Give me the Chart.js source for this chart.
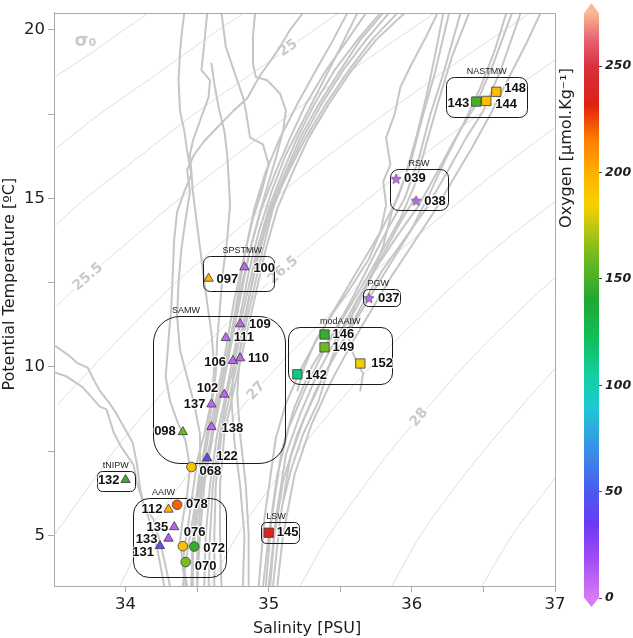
<!DOCTYPE html>
<html><head><meta charset="utf-8">
<script src="https://cdn.jsdelivr.net/npm/chart.js"></script>
<style>
html,body{margin:0;padding:0;background:#fff;}
#wrap{position:relative;width:633px;height:638px;overflow:hidden;}
#main{position:absolute;left:0;top:0;}
#cbar{position:absolute;left:558px;top:0;}
</style></head><body>
<div id="wrap"><canvas id="main" width="633" height="638"></canvas><canvas id="cbar" width="75" height="638"></canvas></div>
<script>
// ---------------- DATA ----------------
const stationIds = ['143','144','148','039','038','037','146','149','152','142','097','100','109','111','106','110','102','137','138','098','122','068','132','112','078','135','133','131','076','072','070','145'];
const salinity   = [36.45,36.52,36.59,35.89,36.03,35.70,35.39,35.39,35.64,35.20,34.58,34.83,34.80,34.70,34.75,34.80,34.69,34.60,34.60,34.40,34.57,34.46,34.00,34.30,34.36,34.34,34.30,34.24,34.40,34.48,34.42,35.00];
const temperature= [17.87,17.89,18.16,15.58,14.93,12.04,10.96,10.58,10.10,9.78,12.62,12.96,11.27,10.86,10.18,10.26,9.18,8.89,8.22,8.07,7.29,7.03,6.65,5.77,5.91,5.25,4.91,4.69,4.68,4.67,4.21,5.08];
const oxygen     = [150,192,195,8,8,8,145,160,183,112,198,8,8,8,8,8,8,8,8,160,45,192,145,198,220,10,12,30,192,145,163,235];
const markerShape= ['square','square','square','star','star','star','square','square','square','square','triangle','triangle','triangle','triangle','triangle','triangle','triangle','triangle','triangle','triangle','triangle','circle','triangle','triangle','circle','triangle','triangle','triangle','circle','circle','circle','square'];

const boxNames   = ['NASTMW','RSW','PGW','modAAIW','SPSTMW','SAMW','tNIPW','AAIW','LSW'];
const boxSalMin  = [36.238,35.849,35.656,35.135,34.539,34.191,33.800,34.051,34.947];
const boxSalMax  = [36.807,36.252,35.917,35.865,35.035,35.114,34.063,34.703,35.209];
const boxTempMax = [18.59,15.87,12.30,11.19,13.29,11.51,6.91,6.12,5.39];
const boxTempMin = [17.41,14.66,11.80,9.49,12.26,7.16,6.31,3.79,4.77];

const salTicks  = [34,34.5,35,35.5,36,36.5,37];
const tempTicks = [5,7.5,10,12.5,15,17.5,20];
const oxyTicks  = [0,50,100,150,200,250];

// isopycnals (sigma0)
const isoLevels = [24,24.5,25,25.5,26,26.5,27,27.5,28,28.5,29];
const isopycnals = [
 [[33.47,18.5],[33.74,19.25],[33.99,20.0],[34.16,20.5]],
 [[33.52,16.5],[33.82,17.5],[34.24,18.75],[34.65,20.0],[34.83,20.5]],
 [[33.51,14.2],[33.72,15.0],[34.10,16.25],[34.48,17.5],[34.90,18.75],[35.32,20.0],[35.49,20.5]],
 [[33.52,11.8],[33.69,12.5],[34.03,13.75],[34.38,15.0],[34.76,16.25],[35.15,17.5],[35.56,18.75],[35.99,20.0],[36.16,20.5]],
 [[33.53,8.9],[33.77,10.0],[34.05,11.25],[34.35,12.5],[34.69,13.75],[35.04,15.0],[35.41,16.25],[35.81,17.5],[36.22,18.75],[36.65,20.0],[36.83,20.5]],
 [[33.50,5.0],[33.71,6.25],[33.92,7.5],[34.16,8.75],[34.42,10.0],[34.70,11.25],[35.00,12.5],[35.34,13.75],[35.70,15.0],[36.07,16.25],[36.47,17.5],[36.88,18.75],[37.10,19.4]],
 [[33.96,3.5],[34.14,5.0],[34.34,6.25],[34.56,7.5],[34.80,8.75],[35.06,10.0],[35.35,11.25],[35.65,12.5],[36.00,13.75],[36.36,15.0],[36.73,16.25],[37.13,17.5]],
 [[34.59,3.5],[34.78,5.0],[34.98,6.25],[35.21,7.5],[35.45,8.75],[35.71,10.0],[36.00,11.25],[36.31,12.5],[36.65,13.75],[37.03,15.0]],
 [[35.22,3.5],[35.42,5.0],[35.63,6.25],[35.85,7.5],[36.10,8.75],[36.36,10.0],[36.65,11.25],[36.96,12.5],[37.30,13.75]],
 [[35.86,3.5],[36.06,5.0],[36.27,6.25],[36.50,7.5],[36.75,8.75],[37.01,10.0]],
 [[36.49,3.5],[36.70,5.0],[36.92,6.25],[37.14,7.5]]
];
const isoLabelLevels = [25,25.5,26.5,27,28];
const isoLabelTemp   = [19.45,12.67,12.87,9.29,8.5];

// grey CTD profiles (salinity, temperature)
const tsProfiles = [
 [[34.41,20.5],[34.39,19.8],[34.38,19.3],[34.37,18.5],[34.38,17.6],[34.41,17.0],[34.43,16.4],[34.46,15.7],[34.41,15.2],[34.36,14.6],[34.34,13.8],[34.33,12.8],[34.32,11.8],[34.30,10.8],[34.28,9.7],[34.31,9.0],[34.36,8.4],[34.42,7.8],[34.45,7.0],[34.43,6.2],[34.40,5.5],[34.38,4.8],[34.40,4.2],[34.43,3.5]],
 [[34.57,20.5],[34.55,19.6],[34.53,18.8],[34.59,18.5],[34.58,18.0],[34.52,17.3],[34.47,16.7],[34.45,16.3],[34.47,15.2],[34.50,14.2],[34.53,13.2],[34.56,12.2],[34.60,11.0],[34.62,10.0],[34.60,9.0],[34.55,8.0],[34.50,7.2],[34.47,6.3],[34.44,5.4],[34.41,4.6],[34.40,4.0],[34.42,3.5]],
 [[34.67,20.5],[34.70,19.5],[34.74,19.0],[34.78,18.5],[34.82,18.0],[34.84,17.6],[34.87,16.8],[34.96,16.6],[35.00,16.0],[34.95,15.2],[34.89,14.4],[34.84,13.5],[34.80,12.5],[34.76,11.5],[34.72,10.5],[34.67,9.5],[34.62,8.5],[34.58,7.5],[34.53,6.5],[34.50,5.5],[34.47,4.5],[34.46,3.5]],
 [[34.905,20.5],[34.89,19.8],[34.89,19.0],[34.91,18.6],[34.99,18.5],[35.08,18.1],[35.12,17.6],[35.10,17.0],[35.05,16.2],[34.98,15.2],[34.92,14.3],[34.86,13.3],[34.80,12.2],[34.75,11.2],[34.70,10.2],[34.66,9.3],[34.62,8.3],[34.57,7.3],[34.53,6.2],[34.51,5.2],[34.50,4.3],[34.50,3.5]],
 [[34.60,19.0],[34.62,18.4],[34.65,17.7],[34.69,17.0],[34.71,16.3],[34.72,15.6],[34.73,14.8],[34.71,13.8],[34.68,12.8],[34.66,11.8],[34.64,10.8],[34.63,9.8],[34.60,8.8],[34.56,7.8],[34.52,6.8],[34.49,5.8],[34.47,4.8],[34.47,3.5]],
 [[35.24,20.5],[35.15,20.0],[35.08,19.5],[35.00,19.0],[34.94,18.65],[34.85,17.97],[34.75,17.58],[34.64,17.1],[34.55,16.7],[34.48,16.3],[34.43,15.85],[34.45,15.2],[34.42,14.4],[34.39,13.5],[34.37,12.5],[34.36,11.5],[34.38,10.5],[34.43,9.7],[34.48,8.9],[34.52,8.0],[34.52,7.0],[34.49,6.0],[34.45,5.0],[34.42,4.2],[34.40,3.5]],
 [[34.46,3.5],[34.47,5.0],[34.52,6.5],[34.58,8.0],[34.64,9.2],[34.70,10.5],[34.76,12.0],[34.84,13.5],[34.90,14.7],[34.98,15.8],[35.08,16.8],[35.20,17.8],[35.33,18.8],[35.45,19.7],[35.55,20.5]],
 [[34.50,3.5],[34.52,5.0],[34.55,6.5],[34.61,8.0],[34.67,9.2],[34.73,10.5],[34.80,12.0],[34.87,13.5],[34.95,14.7],[35.05,15.8],[35.15,16.8],[35.26,17.8],[35.40,18.8],[35.55,19.7],[35.68,20.5]],
 [[34.55,3.5],[34.56,5.0],[34.59,6.5],[34.64,8.0],[34.70,9.2],[34.76,10.5],[34.84,12.0],[34.92,13.5],[35.00,14.7],[35.10,15.8],[35.20,16.8],[35.32,17.8],[35.46,18.8],[35.62,19.7],[35.78,20.5]],
 [[34.62,3.5],[34.62,5.0],[34.63,6.5],[34.67,8.0],[34.73,9.2],[34.80,10.5],[34.88,12.0],[34.96,13.5],[35.03,14.7],[35.13,15.8],[35.24,16.8],[35.37,17.8],[35.52,18.8],[35.68,19.7],[35.84,20.5]],
 [[34.86,3.5],[34.86,5.0],[34.84,6.5],[34.80,8.0],[34.78,9.2],[34.80,10.5],[34.86,12.0],[34.93,13.5],[35.01,14.7],[35.12,15.8],[35.22,16.8],[35.35,17.8],[35.50,18.8],[35.64,19.7],[35.80,20.5]],
 [[34.82,3.5],[34.83,5.0],[34.80,6.5],[34.76,7.8],[34.74,9.0],[34.76,10.2],[34.80,11.5],[34.86,12.8],[34.93,14.0],[35.02,15.2],[35.12,16.3],[35.24,17.3],[35.36,18.3],[35.48,19.3],[35.62,20.5]],
 [[34.58,3.5],[34.59,5.0],[34.61,6.5],[34.66,8.0],[34.71,9.2],[34.78,10.5],[34.86,12.0],[34.94,13.5],[35.02,14.7],[35.14,15.8],[35.26,16.8],[35.40,17.8],[35.56,18.8],[35.72,19.7],[35.90,20.5]],
 [[34.67,3.5],[34.66,5.0],[34.66,6.5],[34.69,8.0],[34.75,9.2],[34.82,10.5],[34.90,12.0],[34.98,13.5],[35.06,14.7],[35.17,15.8],[35.28,16.8],[35.42,17.8],[35.58,18.8],[35.75,19.7],[35.95,20.5]],
 [[34.93,3.5],[34.97,5.5],[35.05,7.9],[35.12,8.9],[35.22,9.9],[35.36,11.0],[35.50,12.0],[35.64,13.0],[35.78,14.0],[35.90,15.0],[36.00,16.2],[36.08,17.5],[36.16,18.7],[36.26,20.5]],
 [[34.98,3.5],[35.02,5.5],[35.09,7.5],[35.18,8.8],[35.30,10.0],[35.45,11.0],[35.58,12.0],[35.70,13.0],[35.82,14.0],[35.95,15.0],[36.05,16.2],[36.13,17.5],[36.22,18.7],[36.34,20.5]],
 [[35.03,3.5],[35.08,5.5],[35.15,7.3],[35.25,8.5],[35.38,9.7],[35.52,10.8],[35.66,11.9],[35.80,12.9],[35.95,13.8],[36.10,14.7],[36.25,15.8],[36.38,16.8],[36.50,17.6],[36.62,18.8],[36.76,20.5]],
 [[35.00,3.5],[35.05,5.5],[35.12,7.4],[35.22,8.6],[35.34,9.8],[35.48,10.9],[35.62,12.0],[35.76,13.0],[35.90,13.9],[36.05,14.8],[36.18,15.8],[36.32,16.9],[36.45,17.8],[36.57,19.0],[36.70,20.5]],
 [[34.96,3.5],[35.00,5.0],[35.06,6.8],[35.14,8.2],[35.26,9.4],[35.40,10.6],[35.54,11.6],[35.68,12.6],[35.80,13.5],[35.92,14.4],[36.02,15.4],[36.10,16.6],[36.18,17.8],[36.28,19.2],[36.40,20.5]],
 [[35.01,3.5],[35.04,5.0],[35.10,6.6],[35.20,8.0],[35.33,9.3],[35.47,10.4],[35.61,11.4],[35.74,12.3],[35.87,13.2],[36.00,14.1],[36.12,15.1],[36.24,16.2],[36.36,17.2],[36.48,18.3],[36.58,19.4],[36.66,20.5]],
 [[35.06,3.5],[35.10,5.0],[35.18,6.8],[35.30,8.3],[35.44,9.6],[35.58,10.7],[35.72,11.7],[35.86,12.7],[36.00,13.6],[36.14,14.5],[36.28,15.5],[36.42,16.5],[36.55,17.5],[36.68,18.6],[36.80,19.6],[36.90,20.5]],
 [[35.10,6.0],[35.16,7.0],[35.24,8.0],[35.35,9.0],[35.42,10.0],[35.50,11.0],[35.62,11.8],[35.72,12.7],[35.80,13.6],[35.86,14.6],[35.95,15.6],[36.03,16.8],[36.10,18.0],[36.16,19.2],[36.22,20.5]],
 [[35.20,9.3],[35.25,10.0],[35.33,10.8],[35.45,11.6],[35.58,12.4],[35.70,13.2],[35.78,14.0],[35.82,14.8],[35.80,15.5],[35.85,16.0],[35.82,16.8],[35.88,17.5],[35.92,18.3],[36.00,19.0],[36.10,19.8],[36.18,20.5]],
 [[35.64,9.3],[35.66,9.8],[35.62,10.1],[35.58,10.5],[35.55,11.0],[35.60,11.8],[35.70,12.6],[35.82,13.5],[35.92,14.3],[36.02,15.0]],
 [[33.50,10.65],[33.60,10.35],[33.66,10.12],[33.735,9.98],[33.78,9.6],[33.82,9.29],[33.89,8.91],[33.935,8.62],[33.99,8.2],[34.05,7.75],[34.08,7.1],[34.10,6.42],[34.126,5.93],[34.195,5.47],[34.237,4.86],[34.27,4.28],[34.31,3.5]],
 [[33.50,9.84],[33.586,9.72],[33.70,9.40],[33.82,8.82],[33.867,8.74],[33.916,8.07],[33.963,7.67],[34.056,7.09],[34.077,6.60],[34.12,6.0],[34.167,5.44],[34.223,4.57],[34.27,3.5]]
];

// ---------------- STYLE ----------------
const FONT = "'DejaVu Sans', Verdana, sans-serif";
const LFONT = "'Liberation Sans', Arial, sans-serif";
const cmapValues = [0,20,35,50,70,90,105,120,140,160,175,185,200,215,232,250,262,275];
const cmapColors = ['#d77af5','#9a4af5','#6a3af5','#4a5af0','#3a90e8','#20c8d0','#10d0a0','#10c060','#20a830','#70b820','#c0c810','#f8d000','#ffb000','#ff8000','#e02010','#d83040','#e86070','#f8b890'];
const labelPlacement = {
 '143':['l',7,2],'144':['r',9,4],'148':['r',8,-3],'039':['r',8,0],'038':['r',8,1],'037':['r',9,0],
 '146':['r',8,0],'149':['r',8,0],'152':['r',11,0],'142':['r',8,1],'097':['r',8,1],'100':['r',9,1],
 '109':['r',9,0],'111':['r',8,0],'106':['l',7,2],'110':['r',8,0],'102':['l',6,-6],'137':['l',6,0],
 '138':['r',10,2],'098':['l',7,-1],'122':['r',9,-2],'068':['r',8,4],'132':['l',6,1],'112':['l',6,0],
 '078':['r',9,0],'135':['l',6,0],'133':['l',11,1],'131':['l',6,7],'076':['r',1,-14],'072':['r',9,2],
 '070':['r',9,4],'145':['r',8,0]
};
const boxLabelShift = {SAMW:-33, AAIW:-16, SPSTMW:4, PGW:-3, LSW:-4};

function hex2rgb(h){return [parseInt(h.slice(1,3),16),parseInt(h.slice(3,5),16),parseInt(h.slice(5,7),16)];}
function oxyColor(v){
  if(v<=cmapValues[0]) return cmapColors[0];
  for(let i=0;i<cmapValues.length-1;i++){
    if(v<=cmapValues[i+1]){
      const f=(v-cmapValues[i])/(cmapValues[i+1]-cmapValues[i]);
      const a=hex2rgb(cmapColors[i]), b=hex2rgb(cmapColors[i+1]);
      return 'rgb('+a.map((c,k)=>Math.round(c+f*(b[k]-c))).join(',')+')';
    }
  }
  return cmapColors[cmapColors.length-1];
}
function starCanvas(fill){
  const c=document.createElement('canvas'); c.width=12; c.height=12;
  const g=c.getContext('2d');
  g.beginPath();
  for(let k=0;k<10;k++){const r=k%2?2.4:5.3; const a=-Math.PI/2+k*Math.PI/5; g.lineTo(6+r*Math.cos(a),6.4+r*Math.sin(a));}
  g.closePath(); g.fillStyle=fill; g.fill(); g.strokeStyle='#555'; g.lineWidth=0.7; g.stroke();
  return c;
}
const shapeMap={square:'rect',triangle:'triangle',circle:'circle'};
const radiusMap={square:6.6,triangle:5.4,circle:4.8,star:5};

function rrect(ctx,x,y,w,h,r){
  ctx.beginPath();
  ctx.moveTo(x+r,y); ctx.lineTo(x+w-r,y); ctx.arcTo(x+w,y,x+w,y+r,r);
  ctx.lineTo(x+w,y+h-r); ctx.arcTo(x+w,y+h,x+w-r,y+h,r);
  ctx.lineTo(x+r,y+h); ctx.arcTo(x,y+h,x,y+h-r,r);
  ctx.lineTo(x,y+r); ctx.arcTo(x,y,x+r,y,r); ctx.closePath();
}

function drawIsoLabel(chart,k){
  const li=isoLabelLevels.indexOf(isoLevels[k]); if(li<0) return;
  const T=isoLabelTemp[li], pts=isopycnals[k];
  let j=0; while(j<pts.length-2 && pts[j+1][1]<T) j++;
  const f=(T-pts[j][1])/(pts[j+1][1]-pts[j][1]);
  const S=pts[j][0]+f*(pts[j+1][0]-pts[j][0]);
  const {ctx,scales:{x,y}}=chart;
  const px=x.getPixelForValue(S), py=y.getPixelForValue(T);
  const ang=Math.atan2(y.getPixelForValue(pts[j+1][1])-y.getPixelForValue(pts[j][1]), x.getPixelForValue(pts[j+1][0])-x.getPixelForValue(pts[j][0]));
  ctx.save(); ctx.translate(px,py); ctx.rotate(ang);
  ctx.font='bold 14px '+FONT; ctx.textAlign='center'; ctx.textBaseline='middle';
  ctx.lineWidth=5; ctx.strokeStyle='#fff'; ctx.strokeText(String(isoLevels[k]),0,0);
  ctx.fillStyle='#cacaca'; ctx.fillText(String(isoLevels[k]),0,0);
  ctx.restore();
}
function drawBoxes(chart){
  const {ctx,scales:{x,y}}=chart;
  ctx.save();
  boxNames.forEach((n,i)=>{
    const x1=x.getPixelForValue(boxSalMin[i]), x2=x.getPixelForValue(boxSalMax[i]);
    const y1=y.getPixelForValue(boxTempMax[i]), y2=y.getPixelForValue(boxTempMin[i]);
    const w=x2-x1,h=y2-y1,r=Math.max(5,0.2*Math.min(w,h));
    ctx.strokeStyle='#1a1a1a'; ctx.lineWidth=1;
    rrect(ctx,Math.round(x1)+0.5,Math.round(y1)+0.5,Math.round(w),Math.round(h),r); ctx.stroke();
    ctx.font='9px '+LFONT; ctx.fillStyle='#222'; ctx.textAlign='center'; ctx.textBaseline='alphabetic';
    ctx.fillText(n,(x1+x2)/2+(boxLabelShift[n]||0),y1-3);
  });
  ctx.restore();
}
function drawStationLabels(chart){
  const {ctx,scales:{x,y}}=chart;
  ctx.save(); ctx.font='bold 13px '+LFONT; ctx.textBaseline='middle';
  stationIds.forEach((id,i)=>{
    const [side,dx,dy]=labelPlacement[id];
    const px=x.getPixelForValue(salinity[i]), py=y.getPixelForValue(temperature[i]);
    ctx.textAlign= side==='r'?'left':'right';
    const tx= side==='r'? px+dx : px-dx;
    ctx.lineWidth=2.5; ctx.strokeStyle='rgba(255,255,255,0.85)'; ctx.lineJoin='round';
    ctx.strokeText(id,tx,py+dy);
    ctx.fillStyle='#111'; ctx.fillText(id,tx,py+dy);
  });
  ctx.restore();
}

const decoPlugin={
  id:'tsDeco',
  beforeDatasetsDraw(chart){
    const {ctx,scales:{x,y}}=chart;
    ctx.save(); ctx.font='bold 18px '+FONT; ctx.fillStyle='#cacaca'; ctx.textAlign='center'; ctx.textBaseline='middle';
    ctx.fillText('σ₀',x.getPixelForValue(33.72),y.getPixelForValue(19.67)); ctx.restore();
  },
  beforeDatasetDraw(chart,args){ if(chart.data.datasets[args.index].isStations) drawBoxes(chart); },
  afterDatasetDraw(chart,args){
    const ds=chart.data.datasets[args.index];
    if(ds.isoIndex!==undefined) drawIsoLabel(chart,ds.isoIndex);
    if(ds.isStations) drawStationLabels(chart);
  },
  afterDraw(chart){
    const {ctx,chartArea:a}=chart;
    ctx.save(); ctx.strokeStyle='#aaaaaa'; ctx.lineWidth=1; ctx.beginPath();
    ctx.moveTo(Math.round(a.left),Math.round(a.top)+0.5); ctx.lineTo(Math.round(a.right)+0.5,Math.round(a.top)+0.5);
    ctx.lineTo(Math.round(a.right)+0.5,Math.round(a.bottom)); ctx.stroke(); ctx.restore();
  }
};

const datasets=[];
datasets.push({
  label:'stations', isStations:true, order:0,
  data:stationIds.map((id,i)=>({x:salinity[i],y:temperature[i]})),
  pointStyle:markerShape.map((s,i)=> s==='star'? starCanvas(oxyColor(oxygen[i])) : shapeMap[s]),
  pointRadius:markerShape.map(s=>radiusMap[s]),
  pointHoverRadius:markerShape.map(s=>radiusMap[s]),
  pointBackgroundColor:oxygen.map(oxyColor),
  pointBorderColor:'#3a3a3a', pointBorderWidth:0.8, showLine:false
});
tsProfiles.forEach(p=>datasets.push({
  data:p.map(([s,t])=>({x:s,y:t})), showLine:true, pointRadius:0, pointHoverRadius:0,
  borderColor:'#c6c6c6', borderWidth:2, tension:0, order:2, borderJoinStyle:'round', borderCapStyle:'round'
}));
isopycnals.forEach((p,k)=>datasets.push({
  isoIndex:k, data:p.map(([s,t])=>({x:s,y:t})), showLine:true, pointRadius:0, pointHoverRadius:0,
  borderColor:'#dedede', borderWidth:1, tension:0.35, order:3
}));

new Chart(document.getElementById('main'),{
  type:'scatter',
  data:{datasets},
  options:{
    responsive:false, animation:false, devicePixelRatio:1, events:[],
    layout:{padding:{left:0,top:0,right:78,bottom:0}},
    plugins:{legend:{display:false},tooltip:{enabled:false}},
    scales:{
      x:{type:'linear',position:'bottom',min:33.5,max:37,
        afterBuildTicks(s){s.ticks=salTicks.map(v=>({value:v}));},
        afterFit(s){s.height=52;},
        ticks:{autoSkip:false,maxRotation:0,padding:3,color:'#1e1e1e',font:{family:FONT,size:16.5},callback:v=>Number.isInteger(v)?String(v):''},
        grid:{drawOnChartArea:false,drawTicks:true,tickLength:6,color:'#aaaaaa'},
        border:{color:'#aaaaaa'},
        title:{display:true,text:'\u00a0Salinity [PSU]',color:'#1e1e1e',font:{family:FONT,size:16},padding:{top:0,bottom:0}}
      },
      y:{type:'linear',position:'left',min:3.5,max:20.5,
        afterBuildTicks(s){s.ticks=tempTicks.map(v=>({value:v}));},
        afterFit(s){s.width=54;},
        ticks:{autoSkip:false,padding:3,color:'#1e1e1e',font:{family:FONT,size:16.5},callback:v=>(v%5===0)?String(v):''},
        grid:{drawOnChartArea:false,drawTicks:true,tickLength:6,color:'#aaaaaa'},
        border:{color:'#aaaaaa'},
        title:{display:true,text:'\u00a0\u00a0\u00a0\u00a0\u00a0\u00a0Potential Temperature [ºC]',color:'#1e1e1e',font:{family:FONT,size:16},padding:{top:0,bottom:0}}
      }
    }
  },
  plugins:[decoPlugin]
});

// ---------------- COLORBAR ----------------
const cbPlugin={
  id:'cbar',
  beforeDraw(chart){
    const {ctx,chartArea:a,scales:{y}}=chart;
    const y0=y.getPixelForValue(0), y1=y.getPixelForValue(275);
    const g=ctx.createLinearGradient(0,y0,0,y1);
    cmapValues.forEach((v,i)=>g.addColorStop(v/275,cmapColors[i]));
    ctx.save();
    ctx.fillStyle=g; ctx.fillRect(a.left,a.top,a.right-a.left,a.bottom-a.top);
    const mid=(a.left+a.right)/2;
    ctx.fillStyle=cmapColors[0]; ctx.beginPath(); ctx.moveTo(a.left,a.bottom-0.5); ctx.lineTo(a.right,a.bottom-0.5); ctx.lineTo(mid,a.bottom+9); ctx.closePath(); ctx.fill();
    ctx.fillStyle=cmapColors[cmapColors.length-1]; ctx.beginPath(); ctx.moveTo(a.left,a.top+0.5); ctx.lineTo(a.right,a.top+0.5); ctx.lineTo(mid,a.top-10); ctx.closePath(); ctx.fill();
    ctx.translate(9,148); ctx.rotate(-Math.PI/2);
    ctx.font='16px '+FONT; ctx.fillStyle='#1e1e1e'; ctx.textAlign='center'; ctx.textBaseline='middle';
    ctx.fillText('Oxygen [µmol.Kg⁻¹]',0,0);
    ctx.restore();
  }
};
new Chart(document.getElementById('cbar'),{
  type:'scatter',
  data:{datasets:[]},
  options:{
    responsive:false, animation:false, devicePixelRatio:1, events:[],
    layout:{padding:{left:26,top:13,bottom:40,right:0}},
    plugins:{legend:{display:false},tooltip:{enabled:false}},
    scales:{
      x:{display:false,min:0,max:1},
      y:{position:'right',min:0,max:275,
        afterBuildTicks(s){s.ticks=oxyTicks.map(v=>({value:v}));},
        afterFit(s){s.width=34;},
        ticks:{color:'#1e1e1e',padding:3,font:{family:FONT,size:12.5,weight:'bold',style:'italic'}},
        grid:{drawOnChartArea:false,drawTicks:true,tickLength:3,color:'#444'},
        border:{display:false}
      }
    }
  },
  plugins:[cbPlugin]
});
</script>
</body></html>
